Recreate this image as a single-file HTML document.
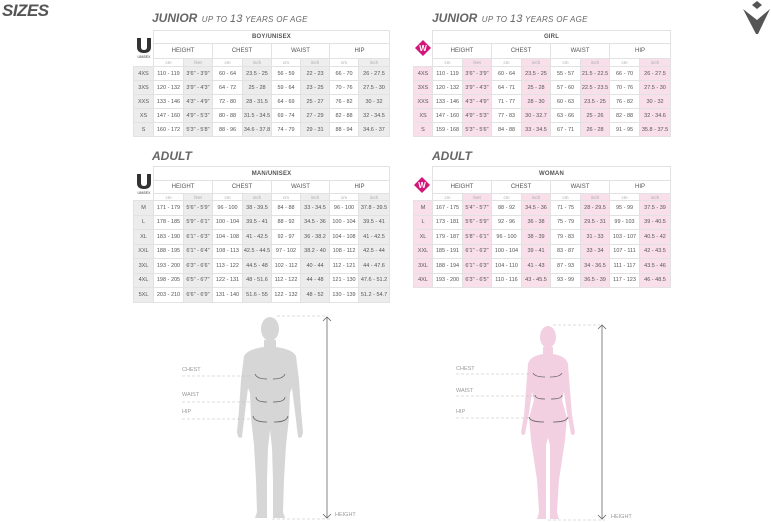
<!DOCTYPE html>
<html><head><meta charset="utf-8"><style>
body{margin:0;width:771px;height:522px;background:#fff;position:relative;overflow:hidden;font-family:"Liberation Sans",sans-serif;color:#555}
svg{z-index:2}
.t{position:absolute;border-collapse:collapse;table-layout:fixed;font-size:5.5px;color:#555}
.t td{border:1px solid #e2e2e2;text-align:center;padding:0;white-space:nowrap;overflow:hidden}
.t td.n{border:none;background:transparent}
.t .h1 td{font-size:6px;font-weight:bold;letter-spacing:.2px}
.t .h2 td{font-size:6px}
.t .u td{font-size:4.5px;color:#aaa}
.t .u td.g{background:#eee}
.t .d td:nth-child(odd){background:#ececec}
.p .u td.g{background:#f8dfea}
.p .d td:nth-child(odd){background:#f8dfea}
.ti{position:absolute;font-style:italic;color:#666;white-space:nowrap}
.ti b{font-size:12px}
.ti span{font-size:8px;letter-spacing:.3px}
.ti i{font-size:11px;font-style:italic}
.lbl{position:absolute;font-size:5.5px;color:#999}
</style></head><body>
<div style="position:absolute;left:2px;top:1px;font-size:17px;font-weight:bold;font-style:italic;color:#555;letter-spacing:-.5px">SIZES</div>

<div class="ti" style="left:152px;top:9px"><b>JUNIOR</b> <span>UP TO <i>13</i> YEARS OF AGE</span></div>
<div class="ti" style="left:432px;top:9px"><b>JUNIOR</b> <span>UP TO <i>13</i> YEARS OF AGE</span></div>
<div class="ti" style="left:152px;top:147px"><b>ADULT</b></div>
<div class="ti" style="left:432px;top:147px"><b>ADULT</b></div>

<table class="t" style="left:133px;top:30px;width:256px">
<colgroup><col style="width:20px"><col style="width:30px"><col style="width:29px"><col style="width:30px"><col style="width:29px"><col style="width:29px"><col style="width:29px"><col style="width:29px"><col style="width:31px"></colgroup>
<tr class="h1" style="height:13px"><td class="n" rowspan="3"></td><td colspan="8">BOY/UNISEX</td></tr>
<tr class="h2" style="height:15px"><td colspan="2">HEIGHT</td><td colspan="2">CHEST</td><td colspan="2">WAIST</td><td colspan="2">HIP</td></tr>
<tr class="u" style="height:8px"><td>cm</td><td class="g">feet</td><td>cm</td><td class="g">inch</td><td>cm</td><td class="g">inch</td><td>cm</td><td class="g">inch</td></tr>
<tr class="d" style="height:14px"><td>4XS</td><td>110 - 119</td><td>3'6" - 3'9"</td><td>60 - 64</td><td>23.5 - 25</td><td>56 - 59</td><td>22 - 23</td><td>66 - 70</td><td>26 - 27.5</td></tr>
<tr class="d" style="height:14px"><td>3XS</td><td>120 - 132</td><td>3'9" - 4'3"</td><td>64 - 72</td><td>25 - 28</td><td>59 - 64</td><td>23 - 25</td><td>70 - 76</td><td>27.5 - 30</td></tr>
<tr class="d" style="height:14px"><td>XXS</td><td>133 - 146</td><td>4'3" - 4'9"</td><td>72 - 80</td><td>28 - 31.5</td><td>64 - 69</td><td>25 - 27</td><td>76 - 82</td><td>30 - 32</td></tr>
<tr class="d" style="height:14px"><td>XS</td><td>147 - 160</td><td>4'9" - 5'3"</td><td>80 - 88</td><td>31.5 - 34.5</td><td>69 - 74</td><td>27 - 29</td><td>82 - 88</td><td>32 - 34.5</td></tr>
<tr class="d" style="height:14px"><td>S</td><td>160 - 172</td><td>5'3" - 5'8"</td><td>88 - 96</td><td>34.6 - 37.8</td><td>74 - 79</td><td>29 - 31</td><td>88 - 94</td><td>34.6 - 37</td></tr>
</table>

<table class="t p" style="left:413px;top:30px;width:257px">
<colgroup><col style="width:19px"><col style="width:30px"><col style="width:29px"><col style="width:30px"><col style="width:29px"><col style="width:30px"><col style="width:29px"><col style="width:30px"><col style="width:31px"></colgroup>
<tr class="h1" style="height:13px"><td class="n" rowspan="3"></td><td colspan="8">GIRL</td></tr>
<tr class="h2" style="height:15px"><td colspan="2">HEIGHT</td><td colspan="2">CHEST</td><td colspan="2">WAIST</td><td colspan="2">HIP</td></tr>
<tr class="u" style="height:8px"><td>cm</td><td class="g">feet</td><td>cm</td><td class="g">inch</td><td>cm</td><td class="g">inch</td><td>cm</td><td class="g">inch</td></tr>
<tr class="d" style="height:14px"><td>4XS</td><td>110 - 119</td><td>3'6" - 3'9"</td><td>60 - 64</td><td>23.5 - 25</td><td>55 - 57</td><td>21.5 - 22.5</td><td>66 - 70</td><td>26 - 27.5</td></tr>
<tr class="d" style="height:14px"><td>3XS</td><td>120 - 132</td><td>3'9" - 4'3"</td><td>64 - 71</td><td>25 - 28</td><td>57 - 60</td><td>22.5 - 23.5</td><td>70 - 76</td><td>27.5 - 30</td></tr>
<tr class="d" style="height:14px"><td>XXS</td><td>133 - 146</td><td>4'3" - 4'9"</td><td>71 - 77</td><td>28 - 30</td><td>60 - 63</td><td>23.5 - 25</td><td>76 - 82</td><td>30 - 32</td></tr>
<tr class="d" style="height:14px"><td>XS</td><td>147 - 160</td><td>4'9" - 5'3"</td><td>77 - 83</td><td>30 - 32.7</td><td>63 - 66</td><td>25 - 26</td><td>82 - 88</td><td>32 - 34.6</td></tr>
<tr class="d" style="height:14px"><td>S</td><td>159 - 168</td><td>5'3" - 5'6"</td><td>84 - 88</td><td>33 - 34.5</td><td>67 - 71</td><td>26 - 28</td><td>91 - 95</td><td>35.8 - 37.5</td></tr>
</table>

<table class="t" style="left:133px;top:166px;width:256px">
<colgroup><col style="width:20px"><col style="width:30px"><col style="width:29px"><col style="width:30px"><col style="width:29px"><col style="width:29px"><col style="width:29px"><col style="width:29px"><col style="width:31px"></colgroup>
<tr class="h1" style="height:14px"><td class="n" rowspan="3"></td><td colspan="8">MAN/UNISEX</td></tr>
<tr class="h2" style="height:13px"><td colspan="2">HEIGHT</td><td colspan="2">CHEST</td><td colspan="2">WAIST</td><td colspan="2">HIP</td></tr>
<tr class="u" style="height:7px"><td>cm</td><td class="g">feet</td><td>cm</td><td class="g">inch</td><td>cm</td><td class="g">inch</td><td>cm</td><td class="g">inch</td></tr>
<tr class="d" style="height:14.5px"><td>M</td><td>171 - 179</td><td>5'6" - 5'9"</td><td>96 - 100</td><td>38 - 39.5</td><td>84 - 88</td><td>33 - 34.5</td><td>96 - 100</td><td>37.8 - 39.5</td></tr>
<tr class="d" style="height:14.5px"><td>L</td><td>178 - 185</td><td>5'9" - 6'1"</td><td>100 - 104</td><td>39.5 - 41</td><td>88 - 92</td><td>34.5 - 36</td><td>100 - 104</td><td>39.5 - 41</td></tr>
<tr class="d" style="height:14.5px"><td>XL</td><td>183 - 190</td><td>6'1" - 6'3"</td><td>104 - 108</td><td>41 - 42.5</td><td>92 - 97</td><td>36 - 38.2</td><td>104 - 108</td><td>41 - 42.5</td></tr>
<tr class="d" style="height:14.5px"><td>XXL</td><td>188 - 195</td><td>6'1" - 6'4"</td><td>108 - 113</td><td>42.5 - 44.5</td><td>97 - 102</td><td>38.2 - 40</td><td>108 - 112</td><td>42.5 - 44</td></tr>
<tr class="d" style="height:14.5px"><td>3XL</td><td>193 - 200</td><td>6'3" - 6'6"</td><td>113 - 122</td><td>44.5 - 48</td><td>102 - 112</td><td>40 - 44</td><td>112 - 121</td><td>44 - 47.6</td></tr>
<tr class="d" style="height:14.5px"><td>4XL</td><td>198 - 205</td><td>6'5" - 6'7"</td><td>122 - 131</td><td>48 - 51.6</td><td>112 - 122</td><td>44 - 48</td><td>121 - 130</td><td>47.6 - 51.2</td></tr>
<tr class="d" style="height:14.5px"><td>5XL</td><td>203 - 210</td><td>6'6" - 6'9"</td><td>131 - 140</td><td>51.6 - 55</td><td>122 - 132</td><td>48 - 52</td><td>130 - 139</td><td>51.2 - 54.7</td></tr>
</table>

<table class="t p" style="left:413px;top:166px;width:257px">
<colgroup><col style="width:19px"><col style="width:30px"><col style="width:29px"><col style="width:30px"><col style="width:29px"><col style="width:30px"><col style="width:29px"><col style="width:30px"><col style="width:31px"></colgroup>
<tr class="h1" style="height:14px"><td class="n" rowspan="3"></td><td colspan="8">WOMAN</td></tr>
<tr class="h2" style="height:13px"><td colspan="2">HEIGHT</td><td colspan="2">CHEST</td><td colspan="2">WAIST</td><td colspan="2">HIP</td></tr>
<tr class="u" style="height:7px"><td>cm</td><td class="g">feet</td><td>cm</td><td class="g">inch</td><td>cm</td><td class="g">inch</td><td>cm</td><td class="g">inch</td></tr>
<tr class="d" style="height:14.5px"><td>M</td><td>167 - 175</td><td>5'4" - 5'7"</td><td>88 - 92</td><td>34.5 - 36</td><td>71 - 75</td><td>28 - 29.5</td><td>95 - 99</td><td>37.5 - 39</td></tr>
<tr class="d" style="height:14.5px"><td>L</td><td>173 - 181</td><td>5'6" - 5'9"</td><td>92 - 96</td><td>36 - 38</td><td>75 - 79</td><td>29.5 - 31</td><td>99 - 103</td><td>39 - 40.5</td></tr>
<tr class="d" style="height:14.5px"><td>XL</td><td>179 - 187</td><td>5'8" - 6'1"</td><td>96 - 100</td><td>38 - 39</td><td>79 - 83</td><td>31 - 33</td><td>103 - 107</td><td>40.5 - 42</td></tr>
<tr class="d" style="height:14.5px"><td>XXL</td><td>185 - 191</td><td>6'1" - 6'2"</td><td>100 - 104</td><td>39 - 41</td><td>83 - 87</td><td>33 - 34</td><td>107 - 111</td><td>42 - 43.5</td></tr>
<tr class="d" style="height:14.5px"><td>3XL</td><td>188 - 194</td><td>6'1" - 6'3"</td><td>104 - 110</td><td>41 - 43</td><td>87 - 93</td><td>34 - 36.5</td><td>111 - 117</td><td>43.5 - 46</td></tr>
<tr class="d" style="height:14.5px"><td>4XL</td><td>193 - 200</td><td>6'3" - 6'5"</td><td>110 - 116</td><td>43 - 45.5</td><td>93 - 99</td><td>36.5 - 39</td><td>117 - 123</td><td>46 - 48.5</td></tr>
</table>

<svg style="position:absolute;left:0;top:0" width="771" height="522">
<polygon points="757,1 762,5 757,9 752,5" fill="#555"/>
<polygon points="743,9 757,20 770,9 758,34 756,34" fill="#555"/>
<path d="M137,38 h4 v9 q0,3 3,3 q3,0 3,-3 v-9 h4 v9 q0,6 -7,6 q-7,0 -7,-6z" fill="#333"/>
<path d="M137,174 h4 v9 q0,3 3,3 q3,0 3,-3 v-9 h4 v9 q0,6 -7,6 q-7,0 -7,-6z" fill="#333"/>
<polygon points="423,40 431,48 423,56 415,48" fill="#d3167a"/>
<text x="423" y="51" font-size="8" font-weight="bold" fill="#fff" text-anchor="middle" font-family="Liberation Sans">W</text>
<polygon points="422,177 430,185 422,193 414,185" fill="#d3167a"/>
<text x="422" y="188" font-size="8" font-weight="bold" fill="#fff" text-anchor="middle" font-family="Liberation Sans">W</text>
<text x="144" y="58" font-size="3.5" fill="#333" text-anchor="middle" font-family="Liberation Sans">UNISEX</text>
<text x="144" y="194" font-size="3.5" fill="#333" text-anchor="middle" font-family="Liberation Sans">UNISEX</text>

<g fill="#d6d6d6">
<ellipse cx="270" cy="329" rx="9" ry="12"/>
<path id="mh" d="M270,340 L264,340 L264,347 Q248,349 244,356 L241,380 L239,410 L237,432 Q238,440 242,437 L245,412 L248,388 L250,393 L251,418 L254,445 L256,480 L257,512 L255,518 L267,518 L267,480 L268,448 L270,430 Z"/>
<use href="#mh" transform="translate(540,0) scale(-1,1)"/>
</g>
<g fill="#f3d0e1">
<ellipse cx="548" cy="337" rx="8" ry="11"/>
<path id="wh" d="M548,347 L543,347 L543,354 Q530,356 528,364 L526,390 L524,415 L521,432 Q522,437 525,434 L529,413 L532,392 L534,400 L529,418 L531,440 L537,480 L539,512 L537,519 L546,519 L546,480 L546,445 L548,438 Z"/>
<use href="#wh" transform="translate(1096,0) scale(-1,1)"/>
</g>
<g stroke="#bbb" stroke-width=".6" stroke-dasharray="3,2" fill="none">
<line x1="182" y1="376" x2="252" y2="376"/><line x1="182" y1="402" x2="252" y2="402"/><line x1="182" y1="419" x2="250" y2="419"/>
<line x1="277" y1="316" x2="326" y2="316"/><line x1="272" y1="519" x2="330" y2="519"/>
<line x1="456" y1="374" x2="530" y2="374"/><line x1="456" y1="396" x2="534" y2="396"/><line x1="456" y1="418" x2="530" y2="418"/>
<line x1="553" y1="325" x2="600" y2="325"/><line x1="548" y1="520" x2="605" y2="520"/>
</g>
<g stroke="#666" stroke-width=".8" fill="none">
<line x1="327" y1="317" x2="327" y2="518"/><polyline points="323,321 327,317 331,321"/><polyline points="323,514 327,518 331,514"/>
<line x1="602" y1="325" x2="602" y2="519"/><polyline points="598,329 602,325 606,329"/><polyline points="598,515 602,519 606,515"/>
<path d="M255,374 q2,5 12,5 M285,374 q-2,5 -12,5"/><path d="M256,397 q0,5 11,5 M285,397 q0,5 -12,5"/><path d="M253,416 q1,6 14,6 M288,416 q-1,6 -14,6"/>
<path d="M533,373 q2,4 12,4 M562,373 q-2,4 -12,4"/><path d="M535,395 q0,4 10,4 M562,395 q0,4 -11,4"/><path d="M529,417 q1,5 15,5 M568,417 q-1,5 -15,5"/>
</g>
</svg>
<div class="lbl" style="left:182px;top:367px">CHEST</div>
<div class="lbl" style="left:182px;top:392px">WAIST</div>
<div class="lbl" style="left:182px;top:409px">HIP</div>
<div class="lbl" style="left:335px;top:512px">HEIGHT</div>
<div class="lbl" style="left:456px;top:366px">CHEST</div>
<div class="lbl" style="left:456px;top:388px">WAIST</div>
<div class="lbl" style="left:456px;top:409px">HIP</div>
<div class="lbl" style="left:611px;top:514px">HEIGHT</div>
</body></html>
